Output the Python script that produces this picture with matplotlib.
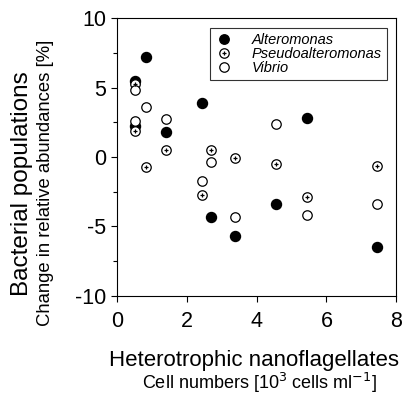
import matplotlib.pyplot as plt
from matplotlib.legend_handler import HandlerTuple
from matplotlib.lines import Line2D

plt.rcParams['font.family'] = ['Liberation Sans', 'DejaVu Sans']
plt.rcParams['axes.unicode_minus'] = False

# HNF cell numbers (10^3 cells/ml) and change in relative abundance (%)
hnf = [0.5, 0.5, 0.83, 1.39, 2.43, 2.70, 3.37, 4.56, 5.45, 7.45]
alteromonas = [5.5, 2.2, 7.2, 1.8, 3.9, -4.3, -5.7, -3.4, 2.8, -6.5]
pseudoalteromonas = [5.25, 1.9, -0.7, 0.5, -2.7, 0.5, -0.1, -0.5, -2.9, -0.65]
vibrio = [4.85, 2.6, 3.6, 2.75, -1.7, -0.35, -4.35, 2.35, -4.2, -3.35]

fig = plt.figure(figsize=(4.11, 3.94), dpi=100)
ax = fig.add_axes([0.285, 0.249, 0.679, 0.705])

ms = 6.8
ax.plot(hnf, alteromonas, 'o', ms=ms + 0.4, mfc='black', mec='black', zorder=2)
ax.plot(hnf, pseudoalteromonas, 'o', ms=ms, mfc='white', mec='black', mew=0.9, zorder=3)
ax.plot(hnf, pseudoalteromonas, '+', ms=3, mec='black', mew=0.9, zorder=4)
ax.plot(hnf, vibrio, 'o', ms=ms, mfc='white', mec='black', mew=0.9, zorder=3)

ax.set_xlim(0, 8)
ax.set_ylim(-10, 10)
ax.set_xticks([0, 2, 4, 6, 8])
ax.set_yticks([-10, -5, 0, 5, 10])
ax.set_yticks([-7.5, -2.5, 2.5, 7.5], minor=True)
ax.tick_params(axis='both', which='major', labelsize=15.5, length=4, width=0.8, direction='out')
ax.tick_params(axis='y', which='minor', length=3, width=0.8)
ax.tick_params(axis='y', pad=4)
ax.tick_params(axis='x', pad=7)
for s in ax.spines.values():
    s.set_linewidth(0.8)

# two-line axis titles
fig.text(0.054, 0.535, 'Bacterial populations', rotation=90, ha='center', va='center', fontsize=17.5)
fig.text(0.11, 0.537, 'Change in relative abundances [%]', rotation=90, ha='center', va='center', fontsize=13.3)
fig.text(0.618, 0.086, 'Heterotrophic nanoflagellates', ha='center', va='center', fontsize=16)
fig.text(0.63, 0.028, 'Cell numbers [10$^3$ cells ml$^{-1}$]', ha='center', va='center', fontsize=13)

h_alt = Line2D([], [], ls='none', marker='o', ms=ms, mfc='black', mec='black')
h_ps_c = Line2D([], [], ls='none', marker='o', ms=ms, mfc='white', mec='black', mew=0.9)
h_ps_p = Line2D([], [], ls='none', marker='+', ms=3, mec='black', mew=0.9)
h_vib = Line2D([], [], ls='none', marker='o', ms=ms, mfc='white', mec='black', mew=0.9)
leg = ax.legend([h_alt, (h_ps_c, h_ps_p), h_vib],
                ['Alteromonas', 'Pseudoalteromonas', 'Vibrio'],
                handler_map={tuple: HandlerTuple(ndivide=1, pad=0)},
                loc='upper right', bbox_to_anchor=(0.968, 0.965),
                prop={'style': 'italic', 'size': 10.5}, frameon=True, fancybox=False,
                edgecolor='black', handlelength=1.2, handletextpad=1.3,
                labelspacing=0.0, borderpad=0.35, borderaxespad=0)
leg.get_frame().set_linewidth(0.8)

fig.savefig('out.png', dpi=100)
